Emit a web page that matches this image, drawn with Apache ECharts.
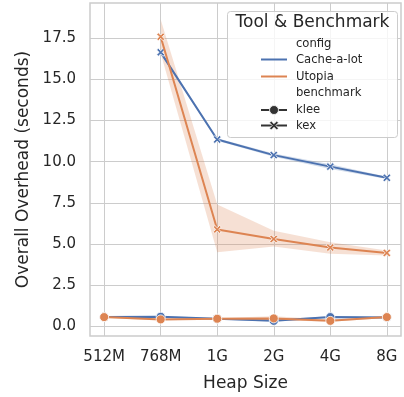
<!DOCTYPE html>
<html>
<head>
<meta charset="utf-8">
<script src="https://cdn.jsdelivr.net/npm/echarts@6/dist/echarts.min.js"></script>
<style>html,body{margin:0;padding:0;background:#fff;}#c{width:404px;height:397px;}</style>
</head>
<body>
<div id="c"></div>
<script>
// ---- data ----
const categories = ['512M', '768M', '1G', '2G', '4G', '8G'];
const yTicks = [0, 2.5, 5, 7.5, 10, 12.5, 15, 17.5];

const cacheKlee   = [0.55, 0.57, 0.45, 0.32, 0.55, 0.53];
const cacheKleeLo = [0.50, 0.51, 0.40, 0.26, 0.49, 0.48];
const cacheKleeHi = [0.60, 0.62, 0.50, 0.40, 0.60, 0.58];

const utopiaKlee   = [0.55, 0.41, 0.45, 0.47, 0.32, 0.55];
const utopiaKleeLo = [0.50, 0.36, 0.40, 0.38, 0.26, 0.50];
const utopiaKleeHi = [0.60, 0.47, 0.50, 0.60, 0.40, 0.60];

const kexCats = ['768M', '1G', '2G', '4G', '8G'];
const cacheKex   = [16.65, 11.35, 10.40, 9.70, 9.02];
const cacheKexLo = [16.55, 11.28, 10.30, 9.55, 8.95];
const cacheKexHi = [16.75, 11.42, 10.50, 9.85, 9.08];

const utopiaKex   = [17.60, 5.88, 5.30, 4.78, 4.45];
const utopiaKexLo = [16.60, 4.50, 4.85, 4.40, 4.30];
const utopiaKexHi = [18.65, 7.40, 5.80, 5.10, 4.60];

// ---- styling ----
const BLUE = '#4c72b0', ORANGE = '#dd8452', TXT = '#262626', GRID = '#cccccc';
const FONT = 'DejaVu Sans';
const XPATH = 'path://M2,0 L5,3 L8,0 L10,2 L7,5 L10,8 L8,10 L5,7 L2,10 L0,8 L3,5 L0,2 Z';
const XPTS = [[2,0],[5,3],[8,0],[10,2],[7,5],[10,8],[8,10],[5,7],[2,10],[0,8],[3,5],[0,2]];

function idx(cat) { return categories.indexOf(cat); }

function band(cats, lo, hi, color) {
  const data = cats.map((c, i) => [idx(c), lo[i], hi[i]]);
  return {
    type: 'custom', silent: true, z: 1,
    data: data,
    encode: { x: 0, y: [1, 2] },
    renderItem: function (params, api) {
      if (params.dataIndex !== 0) return;
      const pts = [];
      for (let i = 0; i < data.length; i++) pts.push(api.coord([data[i][0], data[i][2]]));
      for (let i = data.length - 1; i >= 0; i--) pts.push(api.coord([data[i][0], data[i][1]]));
      return { type: 'polygon', shape: { points: pts }, style: { fill: color, opacity: 0.25 } };
    }
  };
}

function line(cats, vals, color, symbol, size, z) {
  return {
    type: 'line', z: z,
    data: cats.map((c, i) => [idx(c), vals[i]]),
    symbol: symbol, symbolSize: size, showSymbol: true,
    lineStyle: { color: color, width: 2 },
    itemStyle: { color: color, borderColor: '#fff', borderWidth: 0.8 },
    emphasis: { disabled: true },
    animation: false
  };
}

const chart = echarts.init(document.getElementById('c'), null, { renderer: 'canvas' });

const LX = 296; // legend label x
function legText(t, y, size) {
  return { type: 'text', x: LX, y: y, z: 101,
    style: { text: t, font: (size || 11.6) + 'px "' + FONT + '"', fill: TXT, verticalAlign: 'middle' } };
}
const legendGraphics = [
  { type: 'rect', z: 100, shape: { x: 227.5, y: 11.5, width: 170, height: 126, r: 3 },
    style: { fill: 'rgba(255,255,255,0.8)', stroke: GRID, lineWidth: 1 } },
  { type: 'text', x: 312.5, y: 22.5, z: 101,
    style: { text: 'Tool & Benchmark', font: '17px "' + FONT + '"', fill: TXT, align: 'center', verticalAlign: 'middle' } },
  legText('config', 43.5),
  { type: 'line', z: 101, shape: { x1: 261, y1: 59.5, x2: 287, y2: 59.5 }, style: { stroke: BLUE, lineWidth: 2 } },
  legText('Cache-a-lot', 60),
  { type: 'line', z: 101, shape: { x1: 261, y1: 76.5, x2: 287, y2: 76.5 }, style: { stroke: ORANGE, lineWidth: 2 } },
  legText('Utopia', 77),
  legText('benchmark', 93.3),
  { type: 'line', z: 101, shape: { x1: 261, y1: 110, x2: 287, y2: 110 }, style: { stroke: '#333', lineWidth: 2 } },
  { type: 'circle', z: 102, shape: { cx: 274, cy: 110, r: 4.5 }, style: { fill: '#333', stroke: '#fff', lineWidth: 0.8 } },
  legText('klee', 110),
  { type: 'line', z: 101, shape: { x1: 261, y1: 125.5, x2: 287, y2: 125.5 }, style: { stroke: '#333', lineWidth: 2 } },
  { type: 'polygon', z: 102, shape: { points: XPTS.map(p => [269.5 + p[0] * 0.9, 121 + p[1] * 0.9]) },
    style: { fill: '#333', stroke: '#fff', lineWidth: 0.8 } },
  legText('kex', 125.5)
];

const xTickVals = categories.map((c, i) => i);

chart.setOption({
  animation: false,
  backgroundColor: '#fff',
  textStyle: { fontFamily: FONT, color: TXT },
  grid: { left: 90, right: 3, top: 3, bottom: 61, show: true, borderColor: GRID, borderWidth: 1.5, backgroundColor: 'transparent' },
  xAxis: {
    type: 'value', min: -0.25, max: 5.25,
    name: 'Heap Size', nameLocation: 'middle', nameGap: 39,
    nameTextStyle: { fontSize: 17, color: TXT, fontFamily: FONT },
    axisLine: { show: false },
    axisTick: { show: false, customValues: xTickVals },
    splitLine: { show: true, lineStyle: { color: GRID, width: 1 } },
    axisLabel: {
      fontSize: 15, color: TXT, fontFamily: FONT, margin: 14,
      customValues: xTickVals,
      formatter: function (v) { return categories[Math.round(v)]; }
    }
  },
  yAxis: {
    type: 'value', min: -0.6, max: 19.65,
    name: 'Overall Overhead (seconds)', nameLocation: 'middle', nameGap: 58,
    nameTextStyle: { fontSize: 17, color: TXT, fontFamily: FONT },
    axisLine: { show: false },
    axisTick: { show: false, customValues: yTicks },
    splitLine: { show: true, lineStyle: { color: GRID, width: 1 } },
    axisLabel: {
      fontSize: 15, color: TXT, fontFamily: FONT, margin: 14,
      customValues: yTicks,
      formatter: function (v) { return v.toFixed(1); }
    }
  },
  series: [
    band(categories, cacheKleeLo, cacheKleeHi, BLUE),
    band(kexCats, cacheKexLo, cacheKexHi, BLUE),
    band(categories, utopiaKleeLo, utopiaKleeHi, ORANGE),
    band(kexCats, utopiaKexLo, utopiaKexHi, ORANGE),
    line(categories, cacheKlee, BLUE, 'circle', 9, 3),
    line(kexCats, cacheKex, BLUE, XPATH, 8, 3),
    line(categories, utopiaKlee, ORANGE, 'circle', 9, 4),
    line(kexCats, utopiaKex, ORANGE, XPATH, 8, 4)
  ],
  graphic: legendGraphics
});
</script>
</body>
</html>
